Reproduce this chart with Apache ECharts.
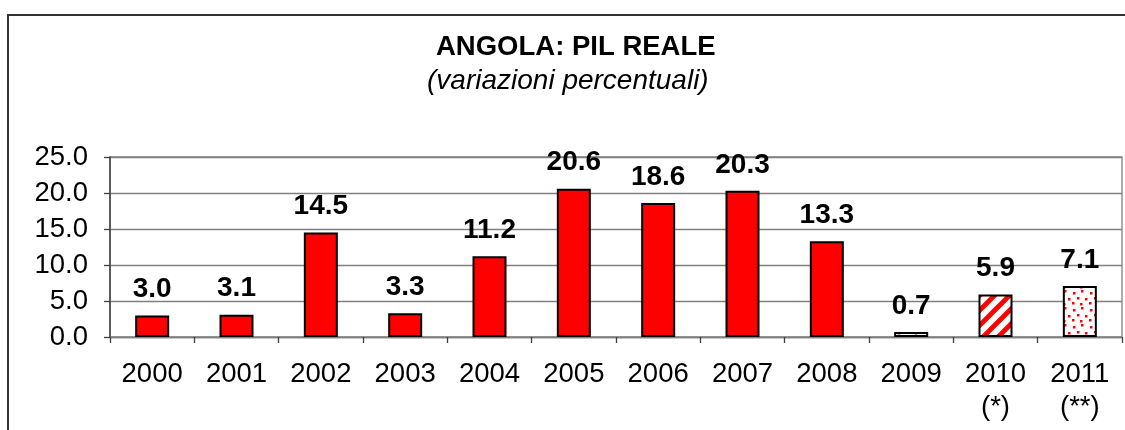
<!DOCTYPE html>
<html>
<head>
<meta charset="utf-8">
<script src="https://cdn.jsdelivr.net/npm/echarts@6/dist/echarts.min.js"></script>
<style>
  html, body { margin: 0; padding: 0; background: #fff; }
  #chart { width: 1125px; height: 430px; }
</style>
</head>
<body>
<div id="chart"></div>
<script>
const years = ['2000', '2001', '2002', '2003', '2004', '2005', '2006', '2007', '2008', '2009', '2010', '2011']
const footnotes = ['', '', '', '', '', '', '', '', '', '', '(*)', '(**)']
const growth = [3.0, 3.1, 14.5, 3.3, 11.2, 20.6, 18.6, 20.3, 13.3, 0.7, 5.9, 7.1]
const yTicks = [0, 5, 10, 15, 20, 25]

const font = '"Liberation Sans", Arial, sans-serif'

// hatch fills used by the estimate years
function stripePattern() {
  const s = 15
  const c = document.createElement('canvas')
  c.width = c.height = s
  const g = c.getContext('2d')
  g.fillStyle = '#fff'
  g.fillRect(0, 0, s, s)
  g.strokeStyle = '#ff0000'
  g.lineWidth = 4.8
  g.beginPath()
  g.moveTo(-s / 2, s / 2); g.lineTo(s / 2, -s / 2)
  g.moveTo(0, s); g.lineTo(s, 0)
  g.moveTo(s / 2, s * 1.5); g.lineTo(s * 1.5, s / 2)
  g.stroke()
  return c
}

function dotPattern() {
  const c = document.createElement('canvas')
  c.width = c.height = 17
  const g = c.getContext('2d')
  g.fillStyle = '#fff'
  g.fillRect(0, 0, 17, 17)
  g.fillStyle = '#ff0000'
  const dots = [[2, 3], [10, 1], [6, 8], [14, 9], [1, 13], [9, 14]]
  dots.forEach(d => g.fillRect(d[0], d[1], 2.5, 2.5))
  return c
}

const fills = {
  9: { image: dotPattern(), repeat: 'repeat' },
  10: { image: stripePattern(), repeat: 'repeat' },
  11: { image: dotPattern(), repeat: 'repeat' }
}

const categories = years.map((y, i) => footnotes[i] ? y + '\n' + footnotes[i] : y)

const chart = echarts.init(document.getElementById('chart'))

chart.setOption({
  animation: false,
  title: [
    {
      text: 'ANGOLA: PIL REALE',
      left: 436,
      top: 33,
      padding: 0,
      textStyle: { fontFamily: font, fontSize: 27.5, fontWeight: 'bold', color: '#000' }
    },
    {
      text: '(variazioni percentuali)',
      left: 427,
      top: 67,
      padding: 0,
      textStyle: { fontFamily: font, fontSize: 28, fontStyle: 'italic', fontWeight: 'normal', color: '#000' }
    }
  ],
  graphic: [
    {
      type: 'polyline',
      shape: { points: [[8, 430], [8, 15], [1125, 15]] },
      style: { stroke: '#333', lineWidth: 2, fill: null }
    }
  ],
  grid: {
    left: 110,
    right: 3,
    top: 157,
    bottom: 93,
    show: true,
    borderColor: '#808080',
    borderWidth: 1.3
  },
  xAxis: {
    type: 'category',
    data: categories,
    axisLine: { lineStyle: { color: '#808080', width: 1.3 } },
    axisTick: { show: true, length: 6, lineStyle: { color: '#404040', width: 1.3 } },
    axisLabel: {
      margin: 21,
      fontFamily: font,
      fontSize: 27.5,
      lineHeight: 33,
      color: '#000'
    }
  },
  yAxis: {
    type: 'value',
    min: yTicks[0],
    max: yTicks[yTicks.length - 1],
    interval: yTicks[1] - yTicks[0],
    axisLine: { show: true, lineStyle: { color: '#404040', width: 1.5 } },
    axisTick: { show: true, length: 6, lineStyle: { color: '#404040', width: 1.3 } },
    splitLine: { lineStyle: { color: '#808080', width: 1.3 } },
    axisLabel: {
      margin: 22,
      fontFamily: font,
      fontSize: 27.5,
      color: '#000',
      formatter: v => v.toFixed(1)
    }
  },
  series: [
    {
      type: 'bar',
      barWidth: 34,
      data: growth.map((v, i) => ({
        value: v,
        itemStyle: { color: fills[i] || '#ff0000' }
      })),
      itemStyle: { borderColor: '#000', borderWidth: 2 },
      label: {
        show: true,
        position: 'top',
        distance: 12,
        fontFamily: font,
        fontSize: 28,
        lineHeight: 28,
        fontWeight: 'bold',
        color: '#000',
        formatter: p => p.value.toFixed(1)
      }
    }
  ]
})
</script>
</body>
</html>
